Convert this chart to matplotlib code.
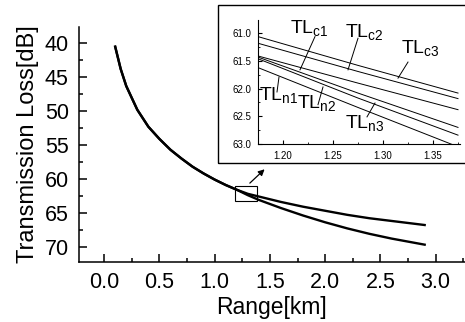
import numpy as np
import matplotlib
matplotlib.use('Agg')
import matplotlib.pyplot as plt
from matplotlib.patches import Rectangle
from matplotlib.ticker import MultipleLocator

plt.rcParams['font.family'] = ['Liberation Sans', 'DejaVu Sans']
plt.rcParams['mathtext.fontset'] = 'custom'
plt.rcParams['mathtext.rm'] = 'Liberation Sans'
plt.rcParams['mathtext.default'] = 'regular'

# main curves
range_km = [0.1, 0.15, 0.2, 0.3, 0.4, 0.5, 0.6, 0.7, 0.8, 0.9, 1.0, 1.1, 1.2,
            1.3, 1.4, 1.5, 1.6, 1.8, 2.0, 2.2, 2.4, 2.6, 2.8, 2.9]
tl_upper = [40.5, 43.8, 46.3, 49.8, 52.3, 54.1, 55.7, 57.0, 58.2, 59.2, 60.1, 60.9, 61.6,
            62.2, 62.6, 63.0, 63.4, 64.1, 64.7, 65.3, 65.8, 66.2, 66.6, 66.8]
tl_lower = [40.5, 43.8, 46.3, 49.8, 52.3, 54.1, 55.7, 57.0, 58.2, 59.2, 60.1, 60.9, 61.6,
            62.4, 63.1, 63.7, 64.3, 65.4, 66.4, 67.3, 68.1, 68.8, 69.4, 69.7]

# zoomed detail
zoom_range = [1.175, 1.275, 1.375]
zoom_curves = {
    'c3': [61.06, 61.58, 62.08],
    'c2': [61.18, 61.69, 62.18],
    'c1': [61.41, 61.90, 62.38],
    'n3': [61.43, 62.08, 62.70],
    'n2': [61.46, 62.17, 62.84],
    'n1': [61.62, 62.34, 63.05],
}
# label text position and pointer line (start, end) per curve
label_pos = {
    'c1': (1.207, 61.00), 'c2': (1.262, 61.07), 'c3': (1.318, 61.36),
    'n1': (1.176, 62.20), 'n2': (1.214, 62.35), 'n3': (1.262, 62.71),
}
pointers = {
    'c1': ((1.232, 61.06), (1.217, 61.66)),
    'c2': ((1.275, 61.09), (1.265, 61.66)),
    'c3': ((1.325, 61.52), (1.315, 61.81)),
    'n1': ((1.196, 61.79), (1.194, 62.06)),
    'n2': ((1.240, 61.97), (1.235, 62.29)),
    'n3': ((1.292, 62.26), (1.284, 62.51)),
}

W, H = 465, 322
fig = plt.figure(figsize=(W / 100, H / 100), dpi=100)

ax = fig.add_axes([78.5 / W, 59.7 / H, (W - 78.5) / W, 235.6 / H])
ax.plot(range_km, tl_upper, color='black', lw=1.7)
ax.plot(range_km, tl_lower, color='black', lw=1.7)
ax.set_xlim(-0.232, 3.265)
ax.set_ylim(72.3, 37.55)
for s in ['top', 'right']:
    ax.spines[s].set_visible(False)
for s in ['left', 'bottom']:
    ax.spines[s].set_linewidth(1.1)
ax.xaxis.set_major_locator(MultipleLocator(0.5))
ax.xaxis.set_minor_locator(MultipleLocator(0.25))
ax.yaxis.set_major_locator(MultipleLocator(5))
ax.yaxis.set_minor_locator(MultipleLocator(2.5))
ax.tick_params(which='both', direction='in', width=1.1, labelsize=15.5)
ax.tick_params(which='major', length=6, pad=7)
ax.tick_params(which='minor', length=3)
ax.xaxis.set_major_formatter(lambda v, p: f'{v:.1f}')
ax.set_xlabel('Range[km]', fontsize=16.5, labelpad=2)
ax.set_ylabel('Transmission Loss[dB]', fontsize=17, labelpad=4)

# box marking the zoomed region + arrow
ax.add_patch(Rectangle((1.18, 61.0), 0.2, 2.2, fill=False, lw=0.8, color='black'))
ax.annotate('', xy=(1.47, 58.3), xytext=(1.30, 60.9),
            arrowprops=dict(arrowstyle='-|>', color='black', lw=0.9, mutation_scale=9))

# frame around the inset
fig.add_artist(Rectangle((218 / W, 159 / H), 0.6, 158 / H, transform=fig.transFigure,
                         fill=False, lw=1.0, color='black'))

ins = fig.add_axes([258 / W, 178 / H, 202 / W, 124 / H])
for k, vals in zoom_curves.items():
    ins.plot(zoom_range, vals, color='black', lw=0.7)
    tx, ty = label_pos[k]
    ins.text(tx, ty, 'TL$_{' + k + '}$', fontsize=14, ha='left', va='baseline')
    (x0, y0), (x1, y1) = pointers[k]
    ins.plot([x0, x1], [y0, y1], color='black', lw=0.7)
ins.set_xlim(1.175, 1.377)
ins.set_ylim(63.0, 60.76)
for s in ['top', 'right']:
    ins.spines[s].set_visible(False)
ins.xaxis.set_major_locator(MultipleLocator(0.05))
ins.xaxis.set_minor_locator(MultipleLocator(0.025))
ins.yaxis.set_major_locator(MultipleLocator(0.5))
ins.yaxis.set_minor_locator(MultipleLocator(0.25))
ins.tick_params(which='both', direction='in', labelsize=7)
ins.tick_params(which='major', length=3, pad=5)
ins.tick_params(which='minor', length=1.5)
ins.xaxis.set_major_formatter(lambda v, p: f'{v:.2f}')
ins.yaxis.set_major_formatter(lambda v, p: f'{v:.1f}')

fig.savefig('out.png', dpi=100)
